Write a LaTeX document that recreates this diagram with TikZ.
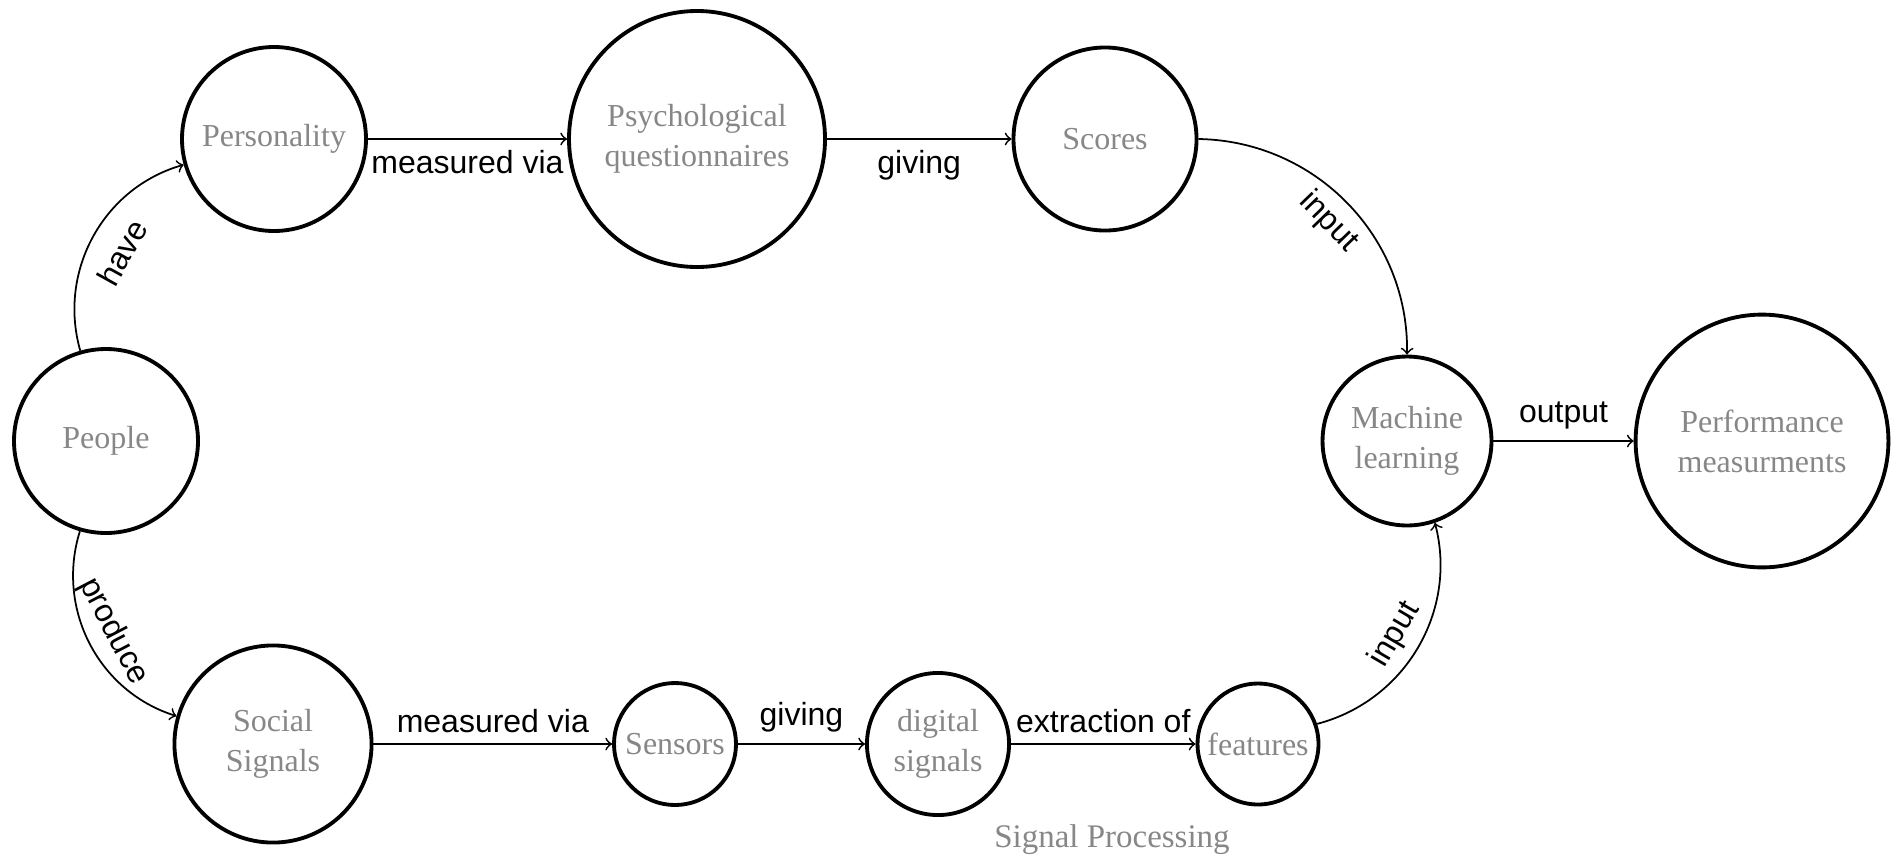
\documentclass[tikz,border=0pt]{standalone}
\usepackage{fontspec}
\setmainfont{Liberation Serif}
\setsansfont{Liberation Sans}
\begin{document}
\begin{tikzpicture}[x=0.3125pt,y=0.3125pt,
  ent/.style={circle, draw, line width=1.2pt, text=black!47, align=center, inner sep=0pt,
    font=\fontsize{10}{12.5}\selectfont},
  conn/.style={->, line width=0.55pt},
  lbl/.style={font=\sffamily\fontsize{10}{12}\selectfont, text=black}]
\useasboundingbox (0,0) rectangle (1894,860);
\node[ent, minimum size=57.5pt] (people) at (106,419) {People};
\node[ent, minimum size=57.5pt] (personality) at (274,721) {Personality};
\node[ent, minimum size=80pt] (psych) at (697,721) {Psychological\\questionnaires};
\node[ent, minimum size=57.2pt] (scores) at (1105,721) {Scores};
\node[ent, minimum size=52.8pt] (ml) at (1407,419) {Machine\\learning};
\node[ent, minimum size=79pt] (perf) at (1762,419) {Performance\\measurments};
\node[ent, minimum size=61.6pt] (social) at (273,116) {Social\\Signals};
\node[ent, minimum size=38.1pt] (sensors) at (675,116) {Sensors};
\node[ent, minimum size=44.4pt] (digital) at (938,116) {digital\\signals};
\node[ent, minimum size=37.8pt] (features) at (1258,116) {features};
\node[text=black!47, font=\fontsize{10.3}{12}\selectfont] (sp) at (1112,20) {Signal Processing};

\draw[conn] (personality) -- node[lbl, below] {measured via} (psych);
\draw[conn] (psych) -- node[lbl, below] {giving} (scores);
\draw[conn] (scores) to[bend left=45] node[lbl, sloped, below] {input} (ml);
\draw[conn] (ml) -- node[lbl, above] {output} (perf);
\draw[conn] (people) to[bend left=45] node[lbl, sloped, below=3pt] {have} (personality);
\draw[conn] (people) to[bend right=45] node[lbl, sloped, above] {produce} (social);
\draw[conn] (social) -- node[lbl, above] {measured via} (sensors);
\draw[conn] (sensors) -- node[lbl, above] {giving} (digital);
\draw[conn] (digital) -- node[lbl, above] {extraction of} (features);
\draw[conn] (features) to[bend right=45] node[lbl, sloped, above] {input} (ml);
\end{tikzpicture}
\end{document}
